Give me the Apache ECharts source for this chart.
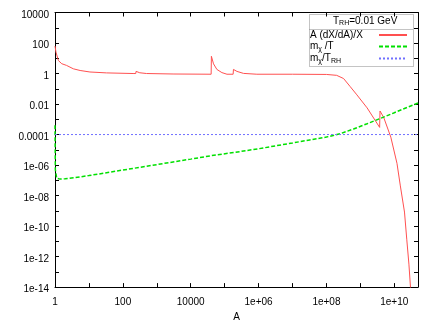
<!DOCTYPE html>
<html>
<head>
<meta charset="utf-8">
<script src="https://cdn.jsdelivr.net/npm/echarts@6/dist/echarts.min.js"></script>
<style>
html,body{margin:0;padding:0;background:#fff;}
#chart{width:436px;height:327px;}
</style>
</head>
<body>
<div id="chart"></div>
<script>
// ---- data ----
const seriesNames = ['A (dX/dA)/X', 'mχ /T', 'mχ/TRH'];
const redA = [1, 1.07, 1.26, 1.58, 2.19, 3.47, 5.5, 10.7, 33, 200, 240, 245, 316, 500, 3200,
  4.0e4, 4.07e4, 4.7e4, 5.9e4, 8.3e4, 1.17e5, 1.78e5, 1.82e5, 2.3e5, 3.6e5, 8.9e5, 1e7, 1e8,
  2.0e8, 3.2e8, 5.0e8, 7.9e8, 1.58e9, 3.7e9, 3.8e9, 4.9e9, 7.9e9, 1.2e10, 1.51e10, 2.0e10,
  2.34e10, 2.7e10, 3.0e10, 3.3e10];
const redV = [63, 25, 7.1, 4.4, 3.4, 2.04, 1.58, 1.26, 1.1, 1.0, 1.0, 1.38, 1.12, 1.0, 0.93,
  0.9, 13.5, 4.3, 1.86, 1.15, 0.9, 0.9, 1.86, 1.38, 1.02, 0.9, 0.9, 0.87,
  0.76, 0.47, 0.14, 0.04, 5.6e-3, 2.95e-4, 3.5e-3, 1.29e-3, 6.8e-5, 1.3e-6, 4.3e-8, 8.3e-10,
  1.26e-11, 3.2e-13, 1e-14, 6e-16];
const greenA = [1, 1.023, 1.12, 1.41, 2, 4, 10, 100, 1000, 1e4, 4.0e4, 4.2e4, 2.8e5, 1e6, 1e7,
  3.2e7, 1e8, 2.5e8, 6.3e8, 1.58e9, 3.8e9, 1e10, 2.5e10, 5e10];
const greenV = [4e-4, 5e-7, 1.4e-7, 1.2e-7, 1.26e-7, 1.51e-7, 2.04e-7, 4.7e-7, 1.07e-6, 2.45e-6,
  4.1e-6, 3.6e-6, 7.6e-6, 1.17e-5, 2.8e-5, 4.4e-5, 6.8e-5, 1.12e-4, 2.3e-4, 5.1e-4, 1.12e-3,
  2.7e-3, 6.3e-3, 1.17e-2];
const blueA = [1, 5e10];
const blueV = [1e-4, 1e-4];
const xMin = 1, xMax = 5e10;
const yMin = 1e-14, yMax = 1e4;
const titleText = '{t|T}{s|RH}{t|=0.01 GeV}';
const xName = 'A';

// ---- helpers ----
function pairs(a, v) { return a.map((x, i) => [x, v[i]]); }
function fmtX(v) {
  const e = Math.round(Math.log10(v));
  if (e % 2 !== 0) return '';
  if (e < 5) return String(Math.pow(10, e));
  return '1e+' + (e < 10 ? '0' + e : e);
}
function fmtY(v) {
  const e = Math.round(Math.log10(v));
  if (Math.abs(e) % 2 !== 0) return '';
  if (e >= 0 && e <= 4) return String(Math.pow(10, e));
  if (e < 0 && e >= -4) return '0.' + '0'.repeat(-e - 1) + '1';
  const a = Math.abs(e);
  return '1e' + (e < 0 ? '-' : '+') + (a < 10 ? '0' + a : a);
}
const legendRich = {
  'A (dX/dA)/X': '{n|A (dX/dA)/X}',
  'mχ /T': '{n|m}{s|χ}{n| /T}',
  'mχ/TRH': '{n|m}{s|χ}{n|/T}{s|RH}'
};

const font = 'Liberation Sans, Arial, Helvetica, sans-serif';
const black = '#000';
const axisCommon = {
  type: 'log', logBase: 10, interval: 1,
  axisLine: { show: true, onZero: false, lineStyle: { color: black, width: 1 } },
  axisTick: { show: true, inside: true, length: 4, interval: 0, lineStyle: { color: black } },
  splitLine: { show: false },
  minorTick: { show: false }
};

const chart = echarts.init(document.getElementById('chart'), null, { renderer: 'canvas' });
chart.setOption({
  animation: false,
  backgroundColor: '#fff',
  textStyle: { fontFamily: font },
  grid: { left: 55, right: 18, top: 12.5, bottom: 33.5, containLabel: false },
  title: {
    text: titleText, left: 333, top: 15, padding: 0,
    textStyle: {
      fontFamily: font, fontWeight: 'normal', fontSize: 10, color: black,
      rich: {
        t: { fontFamily: font, fontSize: 10, color: black, lineHeight: 12 },
        s: { fontFamily: font, fontSize: 7, color: black, lineHeight: 12, padding: [5, 0, 0, 0] }
      }
    }
  },
  legend: {
    data: seriesNames,
    orient: 'vertical', left: 310, top: 29.5, padding: 0,
    align: 'right', itemWidth: 28, itemHeight: 11, itemGap: 0,
    itemStyle: { opacity: 0 },
    formatter: n => legendRich[n],
    textStyle: {
      fontFamily: font, fontSize: 10, color: black, width: 64, lineHeight: 11,
      rich: {
        n: { fontFamily: font, fontSize: 10, color: black, lineHeight: 11, align: 'left' },
        s: { fontFamily: font, fontSize: 7, color: black, lineHeight: 11, align: 'left', padding: [5, 0, 0, 0] }
      }
    }
  },
  graphic: [
    { type: 'rect', silent: true, shape: { x: 309.5, y: 14.5, width: 104, height: 52 },
      style: { fill: 'none', stroke: '#888', lineWidth: 1, lineDash: [1, 1] } },
    { type: 'line', silent: true, shape: { x1: 309.5, y1: 29.5, x2: 413.5, y2: 29.5 },
      style: { stroke: '#888', lineWidth: 1, lineDash: [1, 1] } }
  ],
  xAxis: [
    Object.assign({}, axisCommon, {
      position: 'bottom', min: xMin, max: xMax,
      name: xName, nameLocation: 'middle', nameGap: 23,
      nameTextStyle: { fontFamily: font, fontSize: 10, color: black },
      axisLabel: { show: true, margin: 10, fontFamily: font, fontSize: 10, color: black,
        formatter: fmtX, showMaxLabel: false, hideOverlap: false }
    }),
    Object.assign({}, axisCommon, {
      position: 'top', min: xMin, max: xMax, axisLabel: { show: false }
    })
  ],
  yAxis: [
    Object.assign({}, axisCommon, {
      position: 'left', min: yMin, max: yMax,
      axisLabel: { show: true, margin: 6, fontFamily: font, fontSize: 10, color: black,
        formatter: fmtY, verticalAlign: 'top', lineHeight: 5 }
    }),
    Object.assign({}, axisCommon, {
      position: 'right', min: yMin, max: yMax, axisLabel: { show: false }
    })
  ],
  series: [
    { name: seriesNames[0], type: 'line', data: pairs(redA, redV), symbol: 'none', showSymbol: false,
      xAxisIndex: 0, yAxisIndex: 0, clip: true,
      itemStyle: { color: '#ff5050' }, lineStyle: { color: '#ff5050', width: 1 } },
    { name: seriesNames[1], type: 'line', data: pairs(greenA, greenV), symbol: 'none', showSymbol: false,
      xAxisIndex: 0, yAxisIndex: 0, clip: true,
      itemStyle: { color: '#00e000' }, lineStyle: { color: '#00e000', width: 1.5, type: [4, 2] } },
    { name: seriesNames[2], type: 'line', data: pairs(blueA, blueV), symbol: 'none', showSymbol: false,
      xAxisIndex: 0, yAxisIndex: 0, clip: true,
      itemStyle: { color: '#7070ff' }, lineStyle: { color: '#7070ff', width: 1, type: [2, 2] } }
  ]
});
</script>
</body>
</html>
